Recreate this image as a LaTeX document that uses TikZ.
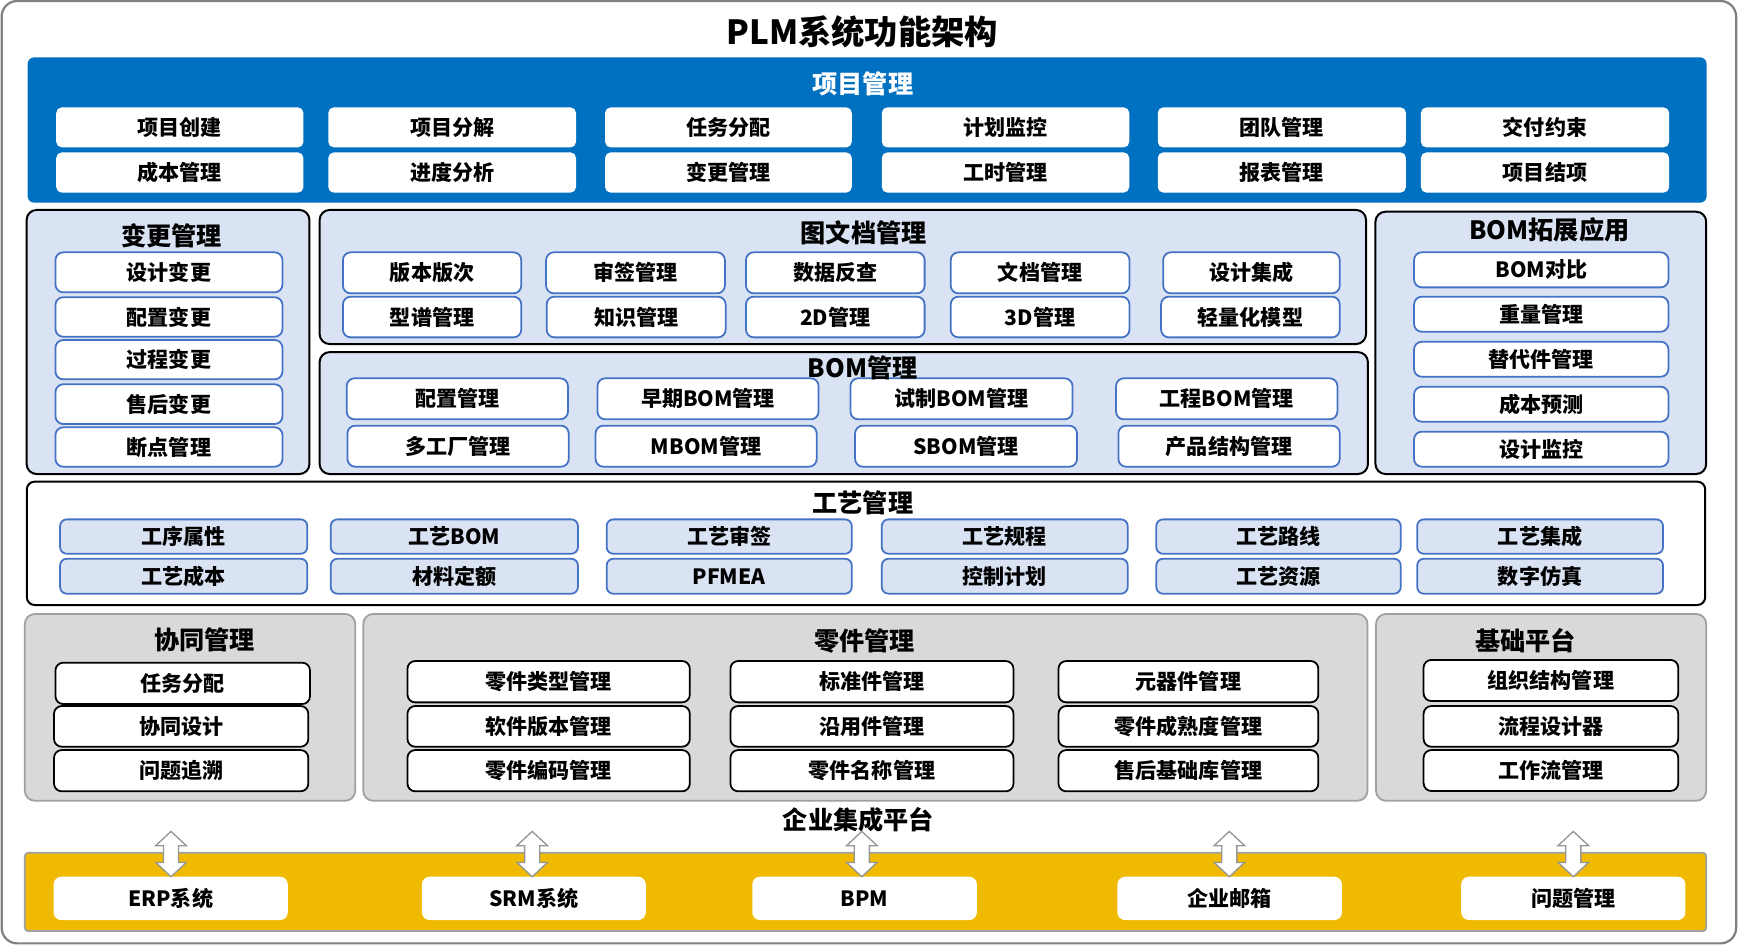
\documentclass[tikz,border=0pt]{standalone}
\usepackage{fontspec}
\setmainfont{Noto Sans CJK SC}
\definecolor{pmblue}{HTML}{0070C0}
\definecolor{lblue}{HTML}{DAE3F3}
\definecolor{bborder}{HTML}{4472C4}
\definecolor{gfill}{HTML}{D9D9D9}
\definecolor{gborder}{HTML}{A0A0A0}
\definecolor{ygold}{HTML}{F0BA00}
\definecolor{framegray}{HTML}{808080}
\definecolor{aborder}{HTML}{969696}
\newcommand\fsz[1]{\fontsize{#1}{#1}\selectfont}
\newcommand\mkbox[7]{\node[#2, minimum width={#4pt-#3pt}, minimum height={#6pt-#5pt}] (#1) at ({(#3+#4)/2},{(#5+#6)/2}) {#7};}
\newcommand\dblarr[1]{\draw[dblarrow] (#1) -- ++(13.8,-12.9) -- ++(-7,0) -- ++(0,-15.1) -- ++(7,0) -- ++(-13.8,-12.9) -- ++(-13.8,12.9) -- ++(7,0) -- ++(0,15.1) -- ++(-7,0) -- cycle;}
\begin{document}
\begin{tikzpicture}[x=1pt, y=-1pt,
  base/.style={inner sep=0pt, outer sep=0pt, font=\bfseries\fsz{19}, text=black},
  outer/.style={base, fill=white, draw=framegray, line width=2pt, rounded corners=14pt},
  bluepanel/.style={base, fill=pmblue, rounded corners=6pt},
  pitem/.style={base, fill=white, rounded corners=5pt},
  lbpanel/.style={base, fill=lblue, draw=black, line width=1.8pt, rounded corners=9pt},
  bitem/.style={base, fill=white, draw=bborder, line width=1.6pt, rounded corners=7pt},
  titem/.style={base, fill=lblue, draw=bborder, line width=1.6pt, rounded corners=6pt},
  wpanel/.style={base, fill=white, draw=black, line width=1.8pt, rounded corners=7pt},
  gpanel/.style={base, fill=gfill, draw=gborder, line width=1.6pt, rounded corners=9pt},
  kitem/.style={base, fill=white, draw=black, line width=1.6pt, rounded corners=7pt},
  yband/.style={base, fill=ygold, draw=gborder, line width=1.6pt, rounded corners=3pt},
  sysbox/.style={base, fill=white, rounded corners=7pt},
  sect/.style={inner sep=0pt, font=\bfseries\fsz{22.7}},
  dblarrow/.style={draw=aborder, fill=white, line width=1.2pt, line join=miter},
]
\useasboundingbox (0,0) rectangle (1568,852.1);
\mkbox{frame}{outer}{1.5}{1565.4}{0.9}{850.6}{}
\node[inner sep=0pt, font=\bfseries\fsz{30}] (title) at (777.5,29) {PLM系统功能架构};

% 项目管理
\mkbox{pm}{bluepanel}{24.9}{1538.8}{51.7}{182.8}{}
\node[sect, text=white] (pmt) at (778,76) {项目管理};
\mkbox{p11}{pitem}{50.7}{273.6}{96.8}{132.9}{项目创建}
\mkbox{p12}{pitem}{296}{519.4}{96.8}{132.9}{项目分解}
\mkbox{p13}{pitem}{545.6}{768}{96.8}{132.9}{任务分配}
\mkbox{p14}{pitem}{795.1}{1018.2}{96.8}{132.9}{计划监控}
\mkbox{p15}{pitem}{1043.9}{1267.7}{96.8}{132.9}{团队管理}
\mkbox{p16}{pitem}{1281.2}{1505}{96.8}{132.9}{交付约束}
\mkbox{p21}{pitem}{50.7}{273.6}{137.4}{173.7}{成本管理}
\mkbox{p22}{pitem}{296}{519.4}{137.4}{173.7}{进度分析}
\mkbox{p23}{pitem}{545.6}{768}{137.4}{173.7}{变更管理}
\mkbox{p24}{pitem}{795.1}{1018.2}{137.4}{173.7}{工时管理}
\mkbox{p25}{pitem}{1043.9}{1267.7}{137.4}{173.7}{报表管理}
\mkbox{p26}{pitem}{1281.2}{1505}{137.4}{173.7}{项目结项}

% 变更管理
\mkbox{cm}{lbpanel}{24}{279}{189.3}{427.4}{}
\node[sect] (cmt) at (154.6,212.8) {变更管理};
\mkbox{c1}{bitem}{50}{254.7}{227.5}{263.6}{设计变更}
\mkbox{c2}{bitem}{50}{254.7}{268}{303.6}{配置变更}
\mkbox{c3}{bitem}{50}{254.7}{306.6}{342}{过程变更}
\mkbox{c4}{bitem}{50}{254.7}{346.5}{382.3}{售后变更}
\mkbox{c5}{bitem}{50}{254.7}{385.3}{420.8}{断点管理}

% 图文档管理
\mkbox{dm}{lbpanel}{288.2}{1231.7}{189.3}{310.2}{}
\node[sect] (dmt) at (778.7,209.5) {图文档管理};
\mkbox{d11}{bitem}{309.2}{470}{227.5}{264.5}{版本版次}
\mkbox{d12}{bitem}{492.4}{653.6}{227.5}{264.5}{审签管理}
\mkbox{d13}{bitem}{672.6}{833.7}{227.5}{264.5}{数据反查}
\mkbox{d14}{bitem}{857.2}{1018.4}{227.5}{264.5}{文档管理}
\mkbox{d15}{bitem}{1048.8}{1208}{227.5}{264.5}{设计集成}
\mkbox{d21}{bitem}{309.2}{470}{267.5}{304.2}{型谱管理}
\mkbox{d22}{bitem}{492.9}{654.3}{267.5}{304.2}{知识管理}
\mkbox{d23}{bitem}{672.6}{833.7}{267.5}{304.2}{2D管理}
\mkbox{d24}{bitem}{857.2}{1018.4}{267.5}{304.2}{3D管理}
\mkbox{d25}{bitem}{1046.9}{1208}{267.5}{304.2}{轻量化模型}

% BOM管理
\mkbox{bm}{lbpanel}{288.2}{1233.4}{317.5}{427.4}{}
\mkbox{b11}{bitem}{312.6}{512.1}{341.1}{378.1}{配置管理}
\mkbox{b12}{bitem}{538.7}{738.1}{341.1}{378.1}{早期BOM管理}
\mkbox{b13}{bitem}{766.8}{967}{341.1}{378.1}{试制BOM管理}
\mkbox{b14}{bitem}{1006.3}{1205.9}{341.1}{378.1}{工程BOM管理}
\mkbox{b21}{bitem}{313.3}{512.8}{383.8}{420.8}{多工厂管理}
\mkbox{b22}{bitem}{537}{736.4}{383.8}{420.8}{MBOM管理}
\mkbox{b23}{bitem}{771}{971.1}{383.8}{420.8}{SBOM管理}
\mkbox{b24}{bitem}{1008.4}{1208}{383.8}{420.8}{产品结构管理}
\node[sect] (bmt) at (777.8,332.1) {BOM管理};

% BOM拓展应用
\mkbox{be}{lbpanel}{1240.2}{1538.4}{190.9}{427.4}{}
\node[sect] (bet) at (1397,207.4) {BOM拓展应用};
\mkbox{e1}{bitem}{1275}{1504.4}{227.5}{259.1}{BOM对比}
\mkbox{e2}{bitem}{1275}{1504.4}{267.5}{299.1}{重量管理}
\mkbox{e3}{bitem}{1275}{1504.4}{308.1}{339.7}{替代件管理}
\mkbox{e4}{bitem}{1275}{1504.4}{348.7}{380.2}{成本预测}
\mkbox{e5}{bitem}{1275}{1504.4}{389.2}{420.8}{设计监控}

% 工艺管理
\mkbox{gy}{wpanel}{24.2}{1537.5}{434.3}{545.5}{}
\node[sect] (gyt) at (778,453) {工艺管理};
\mkbox{g11}{titem}{54.2}{277.1}{468.3}{499.3}{工序属性}
\mkbox{g12}{titem}{298.2}{521.1}{468.3}{499.3}{工艺BOM}
\mkbox{g13}{titem}{547}{768}{468.3}{499.3}{工艺审签}
\mkbox{g14}{titem}{795.1}{1016.8}{468.3}{499.3}{工艺规程}
\mkbox{g15}{titem}{1042.6}{1263}{468.3}{499.3}{工艺路线}
\mkbox{g16}{titem}{1277.8}{1499.5}{468.3}{499.3}{工艺集成}
\mkbox{g21}{titem}{54.2}{277.1}{503.8}{535.3}{工艺成本}
\mkbox{g22}{titem}{298.2}{521.1}{503.8}{535.3}{材料定额}
\mkbox{g23}{titem}{547}{768}{503.8}{535.3}{PFMEA}
\mkbox{g24}{titem}{795.1}{1016.8}{503.8}{535.3}{控制计划}
\mkbox{g25}{titem}{1042.6}{1263}{503.8}{535.3}{工艺资源}
\mkbox{g26}{titem}{1277.8}{1499.5}{503.8}{535.3}{数字仿真}

% 协同管理
\mkbox{xt}{gpanel}{22.4}{320.3}{553.6}{722}{}
\node[sect] (xtt) at (184.6,577) {协同管理};
\mkbox{x1}{kitem}{50}{279.5}{597.5}{634.8}{任务分配}
\mkbox{x2}{kitem}{48.7}{278}{636.6}{673.3}{协同设计}
\mkbox{x3}{kitem}{48.7}{278}{676.3}{713.5}{问题追溯}

% 零件管理
\mkbox{lj}{gpanel}{327.5}{1233}{553.6}{722}{}
\node[sect] (ljt) at (779.7,577.7) {零件管理};
\mkbox{l11}{kitem}{367.4}{622}{596}{633.3}{零件类型管理}
\mkbox{l12}{kitem}{367.4}{622}{636.6}{673.3}{软件版本管理}
\mkbox{l13}{kitem}{367.4}{622}{676.3}{713.5}{零件编码管理}
\mkbox{l21}{kitem}{658.6}{913.8}{596}{633.3}{标准件管理}
\mkbox{l22}{kitem}{658.6}{913.8}{636.6}{673.3}{沿用件管理}
\mkbox{l23}{kitem}{658.6}{913.8}{676.3}{713.5}{零件名称管理}
\mkbox{l31}{kitem}{954.4}{1188.7}{596}{633.3}{元器件管理}
\mkbox{l32}{kitem}{954.4}{1188.7}{636.6}{673.3}{零件成熟度管理}
\mkbox{l33}{kitem}{954.4}{1188.7}{676.3}{713.5}{售后基础库管理}

% 基础平台
\mkbox{jc}{gpanel}{1240.7}{1538.4}{553.6}{722}{}
\node[sect] (jct) at (1375.7,577.7) {基础平台};
\mkbox{j1}{kitem}{1283.6}{1513.2}{595}{632.1}{组织结构管理}
\mkbox{j2}{kitem}{1283.6}{1513.2}{636.6}{673.3}{流程设计器}
\mkbox{j3}{kitem}{1283.6}{1513.2}{676.3}{713.2}{工作流管理}

% 企业集成平台
\node[sect] (eit) at (774,739.4) {企业集成平台};
\mkbox{yb}{yband}{22.4}{1538.4}{768.9}{839.5}{}
\mkbox{s1}{sysbox}{48.3}{259.5}{790.5}{829.6}{ERP系统}
\mkbox{s2}{sysbox}{380.4}{582.3}{790.5}{829.6}{SRM系统}
\mkbox{s3}{sysbox}{678.3}{880.8}{790.5}{829.6}{BPM}
\mkbox{s4}{sysbox}{1007.5}{1210}{790.5}{829.6}{企业邮箱}
\mkbox{s5}{sysbox}{1317.5}{1519.7}{790.5}{829.6}{问题管理}
\dblarr{[xshift=0.3pt]s1.north}
\dblarr{[xshift=-1.5pt]s2.north}
\dblarr{[xshift=-2.5pt]s3.north}
\dblarr{[xshift=-0.3pt]s4.north}
\dblarr{s5.north}
\end{tikzpicture}
\end{document}
